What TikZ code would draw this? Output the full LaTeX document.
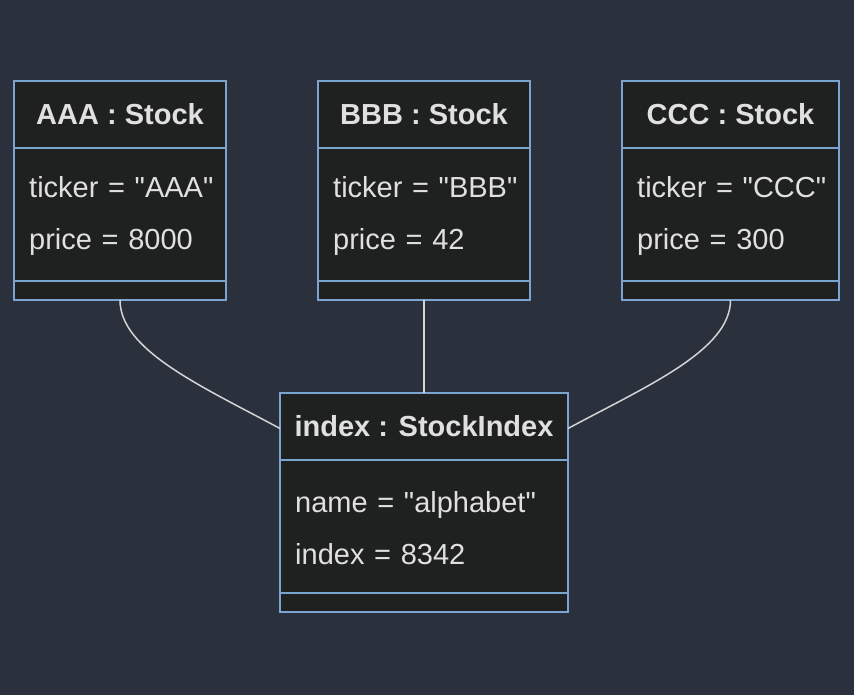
\documentclass[tikz,border=0pt]{standalone}
\usepackage{fontspec}
\newfontfamily\uifont{Liberation Sans}
\usepackage{tikz}
\usetikzlibrary{positioning}
\definecolor{bgcol}{HTML}{2A303C}
\definecolor{boxcol}{HTML}{1F2020}
\definecolor{edgecol}{HTML}{7BA5D0}
\definecolor{txtcol}{HTML}{E0E0E0}
\definecolor{linecol}{HTML}{D4D4D4}

\begin{document}
\begin{tikzpicture}[x=1pt, y=-1pt,
		box/.style={rectangle, draw=edgecol, fill=boxcol, line width=1.5pt, outer sep=0pt, inner sep=0pt, text=txtcol},
		titlebox/.style={box, minimum height=67pt, font=\uifont\fontsize{29}{35}\selectfont\bfseries},
		attrbox/.style={box, minimum height=133pt},
		attrtext/.style={inner sep=0pt, yshift=-2pt, text=txtcol, text width=260pt, align=left, font=\uifont\fontsize{29}{52}\selectfont},
		footbox/.style={box, minimum height=19pt},
		link/.style={draw=linecol, line width=1.5pt}]
		\useasboundingbox[fill=bgcol] (0,0) rectangle (854,695);
		
		\node[titlebox, minimum width=212pt, anchor=north west] (aaa-title) at (14,81) {AAA : Stock};
		\node[attrbox, minimum width=212pt, below=0pt of aaa-title] (aaa-attr) {};
		\node[attrtext, right=15pt of aaa-attr.west] (aaa-text) {ticker = "AAA"\\price = 8000};
		\node[footbox, minimum width=212pt, below=0pt of aaa-attr] (aaa-foot) {};
		
		\node[titlebox, minimum width=212pt, anchor=north west] (bbb-title) at (318,81) {BBB : Stock};
		\node[attrbox, minimum width=212pt, below=0pt of bbb-title] (bbb-attr) {};
		\node[attrtext, right=15pt of bbb-attr.west] (bbb-text) {ticker = "BBB"\\price = 42};
		\node[footbox, minimum width=212pt, below=0pt of bbb-attr] (bbb-foot) {};
		
		\node[titlebox, minimum width=217pt, anchor=north west] (ccc-title) at (622,81) {CCC : Stock};
		\node[attrbox, minimum width=217pt, below=0pt of ccc-title] (ccc-attr) {};
		\node[attrtext, right=15pt of ccc-attr.west] (ccc-text) {ticker = "CCC"\\price = 300};
		\node[footbox, minimum width=217pt, below=0pt of ccc-attr] (ccc-foot) {};
		
		\node[titlebox, minimum width=288pt, anchor=north west] (idx-title) at (280,393) {index : StockIndex};
		\node[attrbox, minimum width=288pt, below=0pt of idx-title] (idx-attr) {};
		\node[attrtext, right=15pt of idx-attr.west] (idx-text) {name = "alphabet"\\index = 8342};
		\node[footbox, minimum width=288pt, below=0pt of idx-attr] (idx-foot) {};
		
		\draw[link] (aaa-foot.south) .. controls +(0,50) and +(-80,-43) .. ([yshift=-2pt]idx-title.west);
		\draw[link] (bbb-foot.south) -- (idx-title.north);
		\draw[link] (ccc-foot.south) .. controls +(0,50) and +(80,-43) .. ([yshift=-2pt]idx-title.east);
		
	\end{tikzpicture}
\end{document}
